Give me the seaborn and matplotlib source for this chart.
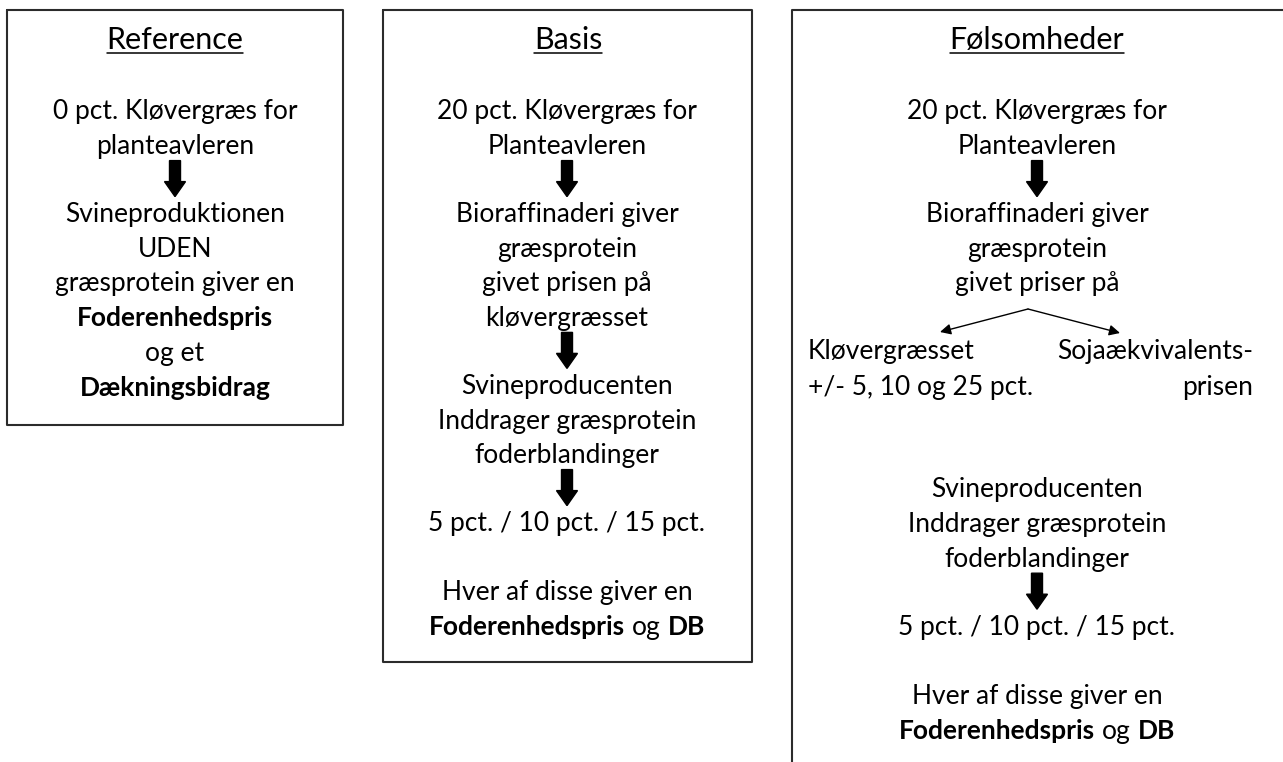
import seaborn as sns
import matplotlib.pyplot as plt

# tekster i de tre kasser ("**" = fed, "v" = pil ned, "" = tom linje)
titler = ['Reference', 'Basis', 'Følsomheder']

reference_trin = ['0 pct. Kløvergræs for', 'planteavleren', 'v',
                  'Svineproduktionen', 'UDEN', 'græsprotein giver en',
                  '**Foderenhedspris**', 'og et', '**Dækningsbidrag**']

basis_trin = ['20 pct. Kløvergræs for', 'Planteavleren', 'v',
              'Bioraffinaderi giver', 'græsprotein', 'givet prisen på',
              'kløvergræsset', 'v', 'Svineproducenten',
              'Inddrager græsprotein', 'foderblandinger', 'v',
              '5 pct. / 10 pct. / 15 pct.', '',
              'Hver af disse giver en', '**Foderenhedspris** og **DB**']

foelsom_top = ['20 pct. Kløvergræs for', 'Planteavleren', 'v',
               'Bioraffinaderi giver', 'græsprotein', 'givet priser på']
foelsom_venstre = ['Kløvergræsset', '+/- 5, 10 og 25 pct.']
foelsom_hoejre = ['Sojaækvivalents-', 'prisen']
foelsom_bund = ['Svineproducenten', 'Inddrager græsprotein',
                'foderblandinger', 'v', '5 pct. / 10 pct. / 15 pct.', '',
                'Hver af disse giver en', '**Foderenhedspris** og **DB**']

sns.set_theme(style='white')
plt.rcParams['font.family'] = ['Lato', 'DejaVu Sans']

FS = 19
LINJE = 34.6
PIL_TRIN = 68

fig = plt.figure(figsize=(12.83, 7.62), dpi=100)
ax = fig.add_axes([0, 0, 1, 1])
ax.set_xlim(0, 1283)
ax.set_ylim(762, 0)
ax.axis('off')
r = fig.canvas.get_renderer()


def bredde(txt, fed, fs=FS):
    t = ax.text(0, 0, '|' + txt + '|', fontsize=fs, fontweight='bold' if fed else 'normal')
    t2 = ax.text(0, 0, '||', fontsize=fs, fontweight='bold' if fed else 'normal')
    w = t.get_window_extent(r).width - t2.get_window_extent(r).width
    t.remove()
    t2.remove()
    return w


def tegn_linje(x, y, linje, ha='center'):
    dele = [(p, i % 2 == 1) for i, p in enumerate(linje.split('**')) if p]
    bredder = [bredde(p, f) for p, f in dele]
    total = sum(bredder)
    if ha == 'center':
        x0 = x - total / 2
    elif ha == 'right':
        x0 = x - total
    else:
        x0 = x
    for (p, f), w in zip(dele, bredder):
        lead = len(p) - len(p.lstrip())
        sp = bredde(' ', f)
        ax.text(x0 + lead * sp, y, p.strip(), fontsize=FS, va='center', ha='left',
                fontweight='bold' if f else 'normal', color='black')
        x0 += w


def pil_ned(x, y):
    ax.arrow(x, y, 0, 36, width=11, head_width=21, head_length=15,
             length_includes_head=True, fc='black', ec='black')


def kolonne(x, y0, trin):
    y = y0 - LINJE
    spring = LINJE
    for s in trin:
        if s == 'v':
            pil_ned(x, y + 14)
            spring = PIL_TRIN
        elif s == '':
            spring += LINJE
        else:
            y += spring
            tegn_linje(x, y, s)
            spring = LINJE
    return y


def titel(x, txt):
    t = ax.text(x, 40, txt, fontsize=22, ha='center', va='center', color='black')
    bb = t.get_window_extent(r).transformed(ax.transData.inverted())
    ax.plot([bb.x0, bb.x1], [53, 53], color='black', lw=1.1)


kant = dict(color='#2b2b2b', lw=1.5)
# kasse 1
ax.plot([7, 343, 343, 7, 7], [10, 10, 425, 425, 10], **kant)
# kasse 2
ax.plot([383, 752, 752, 383, 383], [10, 10, 662, 662, 10], **kant)
# kasse 3 (beskaaret i hoejre side og bund)
ax.plot([1283, 792, 792], [10, 10, 762], **kant)

titel(175, titler[0])
titel(568, titler[1])
titel(1037, titler[2])

kolonne(175, 112, reference_trin)
kolonne(567, 112, basis_trin)
kolonne(1037, 112, foelsom_top)

# forgrening
for spids in [(940, 332), (1120, 333)]:
    ax.annotate('', xy=spids, xytext=(1028, 309),
                arrowprops=dict(arrowstyle='-|>', color='black', lw=1,
                                mutation_scale=16, shrinkA=0, shrinkB=0))

for i, s in enumerate(foelsom_venstre):
    tegn_linje(808, 352 + i * 36, s, ha='left')
for i, s in enumerate(foelsom_hoejre):
    tegn_linje(1253, 352 + i * 36, s, ha='right')

kolonne(1037, 490, foelsom_bund)

fig.savefig('out.png', dpi=100)
